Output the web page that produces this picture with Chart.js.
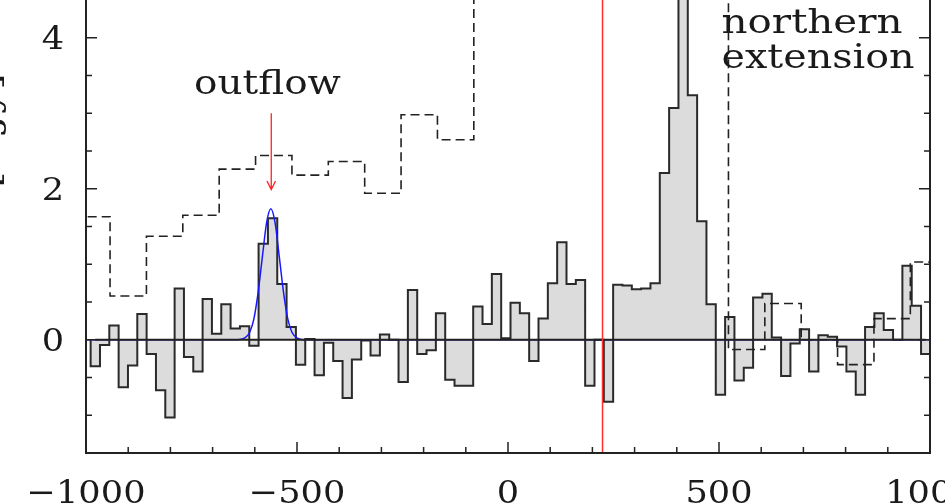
<!DOCTYPE html>
<html>
<head>
<meta charset="utf-8">
<script src="https://cdn.jsdelivr.net/npm/chart.js@4.4.1/dist/chart.umd.min.js"></script>
<style>
html, body { margin:0; padding:0; background:#fff; }
#wrap { width:945px; height:503px; }
</style>
</head>
<body>
<div id="wrap"><canvas id="spec" width="945" height="503"></canvas></div>
<script>
// narrow channels (km/s), left edge of first channel + width
var chanStart = -989;
var chanWidth = 22.11;
var fluxValues = [
  -0.35, -0.07, 0.19, -0.63, -0.34, 0.34, -0.19, -0.67, -1.03, 0.68,
  -0.23, -0.42, 0.54, 0.08, 0.47, 0.15, 0.18, -0.08, 1.27, 1.61,
  0.74, 0.17, -0.33, 0.01, -0.47, -0.04, -0.28, -0.77, -0.26, -0.01,
  -0.21, 0.07, 0.00, -0.56, 0.66, -0.19, -0.14, 0.35, -0.53, -0.61,
  -0.61, 0.44, 0.21, 0.87, 0.02, 0.49, 0.35, -0.28, 0.28, 0.75,
  1.29, 0.74, 0.79, -0.61, 0.00, -0.82, 0.73, 0.72, 0.67, 0.68,
  0.75, 2.21, 3.07, 5.30, 3.24, 1.57, 0.47, -0.73, 0.30, -0.54,
  -0.37, 0.56, 0.61, 0.03, -0.48, -0.05, 0.14, -0.42, 0.06, 0.04,
  -0.09, -0.42, -0.73, 0.17, 0.35, 0.13, 0.00, 0.98, 0.45, -0.19
];

// northern extension spectrum, wide channels (dashed)
var wideStart = -1029.2;
var wideWidth = 86.2;
var wideValues = [1.63, 0.58, 1.37, 1.65, 2.26, 2.44, 2.18, 2.36, 1.94, 2.98,
  2.65, 5.6, 7.4, 9.8, 12.5, 13.8, 11.2, 7.1, -0.13, 0.48, 0.00, -0.33, 0.28, 1.03];

// gaussian fit of the outflow component (blue)
var fitV    = [-1000, -640, -625, -612, -602, -592, -582, -572, -562, -552, -542, -532, -522, -512, -499, -485, 1000];
var fitFlux = [0, 0, 0.02, 0.10, 0.28, 0.63, 1.10, 1.55, 1.735, 1.55, 1.10, 0.63, 0.28, 0.10, 0.02, 0, 0];

var zeroSpan = [-978, 990];
var systemicV = 224;
var arrowV = -561;
var arrowY = [3.0, 1.99];

var xMajor = [-1000, -500, 0, 500, 1000];
var xLabels = ['\u22121000', '\u2212500', '0', '500', '1000'];
var xMinor = [-900, -800, -700, -600, -400, -300, -200, -100, 100, 200, 300, 400, 600, 700, 800, 900];
var yMajor = [0, 2, 4];
var yLabels = ['0', '2', '4'];
var yMinor = [-1, -0.5, 0.5, 1, 1.5, 2.5, 3, 3.5];

function histPoints(start, width, vals) {
  var pts = [{x: start, y: 0}];
  for (var i = 0; i < vals.length; i++) pts.push({x: start + i * width, y: vals[i]});
  pts.push({x: start + vals.length * width, y: 0});
  return pts;
}
function stepPoints(start, width, vals) {
  var pts = [];
  for (var i = 0; i < vals.length; i++) pts.push({x: start + i * width, y: vals[i]});
  pts.push({x: start + vals.length * width, y: vals[vals.length - 1]});
  return pts;
}

function fitText(ctx, str, x, y, w, align) {
  var m = ctx.measureText(str).width;
  ctx.save();
  ctx.translate(x, y);
  ctx.scale(w / m, 1);
  ctx.textAlign = align;
  ctx.fillText(str, 0, 0);
  ctx.restore();
}

var framePlugin = {
  id: 'frame',
  afterDatasetsDraw: function(chart) {
    var ctx = chart.ctx, a = chart.chartArea;
    var xs = chart.scales.x, ys = chart.scales.y;
    ctx.save();

    // red arrow
    var ax = xs.getPixelForValue(arrowV);
    var y0 = ys.getPixelForValue(arrowY[0]), y1 = ys.getPixelForValue(arrowY[1]);
    ctx.strokeStyle = '#ff2020';
    ctx.lineWidth = 1.3;
    ctx.beginPath();
    ctx.moveTo(ax, y0); ctx.lineTo(ax, y1);
    ctx.moveTo(ax - 4.3, y1 - 8.5); ctx.lineTo(ax, y1); ctx.lineTo(ax + 4.3, y1 - 8.5);
    ctx.stroke();

    // frame
    ctx.strokeStyle = '#222';
    ctx.lineWidth = 2;
    ctx.beginPath();
    ctx.moveTo(a.left, a.top); ctx.lineTo(a.left, a.bottom);
    ctx.lineTo(a.right, a.bottom); ctx.lineTo(a.right, a.top);
    ctx.stroke();

    ctx.lineWidth = 1.5;
    ctx.beginPath();
    xMajor.forEach(function(v) {
      var p = xs.getPixelForValue(v);
      ctx.moveTo(p, a.bottom); ctx.lineTo(p, a.bottom - 11);
    });
    xMinor.forEach(function(v) {
      var p = xs.getPixelForValue(v);
      ctx.moveTo(p, a.bottom); ctx.lineTo(p, a.bottom - 6);
    });
    yMajor.forEach(function(v) {
      var p = ys.getPixelForValue(v);
      ctx.moveTo(a.left, p); ctx.lineTo(a.left + 11, p);
      ctx.moveTo(a.right, p); ctx.lineTo(a.right - 11, p);
    });
    yMinor.forEach(function(v) {
      var p = ys.getPixelForValue(v);
      ctx.moveTo(a.left, p); ctx.lineTo(a.left + 6, p);
      ctx.moveTo(a.right, p); ctx.lineTo(a.right - 6, p);
    });
    ctx.stroke();

    // tick labels
    ctx.fillStyle = '#1a1a1a';
    ctx.font = "32px 'DejaVu Serif'";
    ctx.textBaseline = 'alphabetic';
    xMajor.forEach(function(v, i) {
      var w = ctx.measureText(xLabels[i]).width * 1.1;
      fitText(ctx, xLabels[i], xs.getPixelForValue(v), a.bottom + 50, w, 'center');
    });
    yMajor.forEach(function(v, i) {
      var w = ctx.measureText(yLabels[i]).width * 1.1;
      fitText(ctx, yLabels[i], 53, ys.getPixelForValue(v) + 11.5, w, 'center');
    });

    // y title, mostly outside the crop
    ctx.font = "34px 'DejaVu Serif'";
    var s = 115 / ctx.measureText('[mJy]').width;
    ctx.save();
    ctx.translate(-1.5, 73);
    ctx.rotate(-Math.PI / 2);
    ctx.scale(s, 1);
    ctx.textAlign = 'right';
    ctx.fillText('Flux [mJy]', 0, 0);
    ctx.restore();

    // annotations
    ctx.font = "34px 'DejaVu Serif'";
    fitText(ctx, 'outflow', xs.getPixelForValue(-570), ys.getPixelForValue(3.25), 147, 'center');
    fitText(ctx, 'northern', xs.getPixelForValue(506), ys.getPixelForValue(4.06), 181, 'left');
    fitText(ctx, 'extension', xs.getPixelForValue(506), ys.getPixelForValue(3.60), 193, 'left');

    ctx.restore();
  }
};

var chart = new Chart(document.getElementById('spec'), {
  type: 'line',
  data: {
    datasets: [
      {
        data: [{x: systemicV, y: -1.5}, {x: systemicV, y: 4.5}],
        borderColor: '#ff3030', borderWidth: 1.5, order: 0
      },
      {
        data: [{x: zeroSpan[0], y: 0}, {x: zeroSpan[1], y: 0}],
        borderColor: '#222', borderWidth: 2, order: 1
      },
      {
        data: fitV.map(function(v, i) { return {x: v, y: fitFlux[i]}; }),
        borderColor: '#1818ff', borderWidth: 1.5,
        cubicInterpolationMode: 'monotone', order: 2
      },
      {
        data: stepPoints(wideStart, wideWidth, wideValues),
        borderColor: '#222', borderWidth: 1.6, borderDash: [9, 5],
        stepped: true, order: 3
      },
      {
        data: histPoints(chanStart, chanWidth, fluxValues),
        borderColor: '#2a2a2a', borderWidth: 2,
        backgroundColor: '#dcdcdc', fill: 'origin',
        stepped: true, order: 4
      }
    ]
  },
  options: {
    responsive: false,
    animation: false,
    devicePixelRatio: 1,
    layout: { padding: { left: 86, right: 15, top: 0, bottom: 50 } },
    elements: { point: { radius: 0 }, line: { tension: 0 } },
    scales: {
      x: { type: 'linear', min: -1000, max: 1000, display: false },
      y: { type: 'linear', min: -1.5, max: 4.5, display: false }
    },
    plugins: { legend: { display: false }, tooltip: { enabled: false } }
  },
  plugins: [framePlugin]
});
</script>
</body>
</html>
